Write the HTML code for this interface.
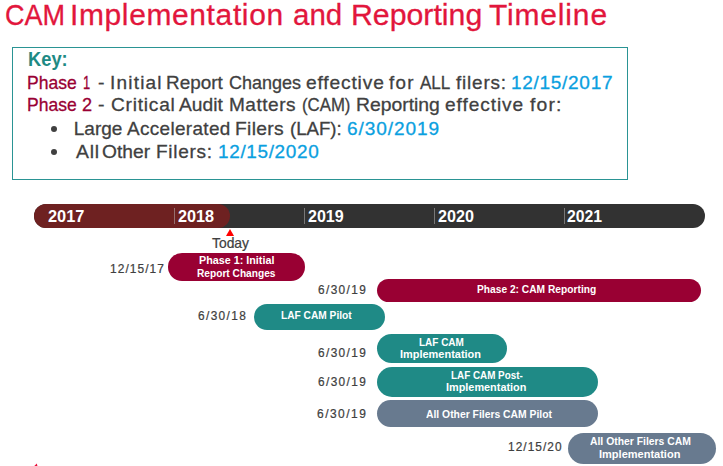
<!DOCTYPE html>
<html><head><meta charset="utf-8"><style>
html,body{margin:0;padding:0;background:#fff;width:723px;height:466px;overflow:hidden;position:relative}
body>div{position:absolute}
.t{white-space:nowrap;font-family:"Liberation Sans", sans-serif;transform-origin:0 0}
.s{-webkit-text-stroke:0.35px currentColor}
</style></head><body>
<div style="left:12px;top:47px;width:614px;height:131px;border:1px solid #2A9494;"></div>
<div style="left:51px;top:126px;width:6px;height:6px;border-radius:3px;background:#404040"></div>
<div style="left:51px;top:149px;width:6px;height:6px;border-radius:3px;background:#404040"></div>
<div style="left:34px;top:204px;width:671px;height:24px;background:#323232;border-radius:12px;"></div>
<div style="left:34px;top:204px;width:196px;height:24px;background:#6E2121;border-radius:12px;"></div>
<div style="left:174px;top:208px;width:1px;height:16px;background:rgba(190,190,190,0.5);border-radius:0px;"></div>
<div style="left:304px;top:208px;width:1px;height:16px;background:rgba(190,190,190,0.5);border-radius:0px;"></div>
<div style="left:434px;top:208px;width:1px;height:16px;background:rgba(190,190,190,0.5);border-radius:0px;"></div>
<div style="left:564px;top:208px;width:1px;height:16px;background:rgba(190,190,190,0.5);border-radius:0px;"></div>
<svg style="position:absolute;left:225px;top:228px" width="10" height="9"><polygon points="5,1 9,8 1,8" fill="#FF0000"/></svg>
<div style="left:168px;top:253px;width:137px;height:28px;background:#990033;border-radius:14px;"></div>
<div style="left:377px;top:279px;width:324px;height:23px;background:#990033;border-radius:11.5px;"></div>
<div style="left:254px;top:304px;width:131px;height:26px;background:#1F8A86;border-radius:13px;"></div>
<div style="left:377px;top:334px;width:130px;height:29px;background:#1F8A86;border-radius:14.5px;"></div>
<div style="left:377px;top:367px;width:221px;height:30px;background:#1F8A86;border-radius:15px;"></div>
<div style="left:377px;top:400px;width:221px;height:27px;background:#687A8F;border-radius:13.5px;"></div>
<div style="left:568px;top:433px;width:148px;height:31px;background:#687A8F;border-radius:15.5px;"></div>
<svg style="position:absolute;left:30px;top:460px" width="10" height="8"><polygon points="6.8,3.6 3.8,6.5 7.6,6.5" fill="#E8103A"/></svg>
<div class="t" style="left:4.5px;top:-0.1px;font-size:30px;line-height:30px;color:#E2163C;transform:scaleX(0.9016);-webkit-text-stroke:0.3px #E2163C;">CAM</div>
<div class="t" style="left:70.21px;top:-0.1px;font-size:30px;line-height:30px;color:#E2163C;transform:scaleX(0.9976);letter-spacing:0.654px;-webkit-text-stroke:0.3px #E2163C;">Implementation</div>
<div class="t" style="left:292.62px;top:-0.1px;font-size:30px;line-height:30px;color:#E2163C;transform:scaleX(0.983);-webkit-text-stroke:0.3px #E2163C;">and</div>
<div class="t" style="left:350.98px;top:-0.1px;font-size:30px;line-height:30px;color:#E2163C;transform:scaleX(1.0087);-webkit-text-stroke:0.3px #E2163C;">Reporting</div>
<div class="t" style="left:488.5px;top:-0.1px;font-size:30px;line-height:30px;color:#E2163C;transform:scaleX(0.9991);letter-spacing:0.843px;-webkit-text-stroke:0.3px #E2163C;">Timeline</div>
<div class="t" style="left:27.69px;top:48.7px;font-size:20px;line-height:20px;color:#1E8A84;font-weight:bold;transform:scaleX(0.9146);">Key:</div>
<div class="t" style="left:26.86px;top:72.8px;font-size:19px;line-height:19px;color:#990033;transform:scaleX(0.9216);-webkit-text-stroke:0.3px #990033;">Phase</div>
<div class="t" style="left:82.92px;top:72.8px;font-size:19px;line-height:19px;color:#990033;transform:scaleX(0.6778);-webkit-text-stroke:0.3px #990033;">1</div>
<div class="t" style="left:98.08px;top:72.8px;font-size:19px;line-height:19px;color:#404040;transform:scaleX(1.02);-webkit-text-stroke:0.3px #404040;">-</div>
<div class="t" style="left:110.0px;top:72.8px;font-size:19px;line-height:19px;color:#404040;transform:scaleX(1.0021);letter-spacing:1.183px;-webkit-text-stroke:0.3px #404040;">Initial</div>
<div class="t" style="left:165.71px;top:72.8px;font-size:19px;line-height:19px;color:#404040;transform:scaleX(0.9945);-webkit-text-stroke:0.3px #404040;">Report</div>
<div class="t" style="left:229.45px;top:72.8px;font-size:19px;line-height:19px;color:#404040;transform:scaleX(0.9459);-webkit-text-stroke:0.3px #404040;">Changes</div>
<div class="t" style="left:305.99px;top:72.8px;font-size:19px;line-height:19px;color:#404040;transform:scaleX(1.0093);letter-spacing:0.837px;-webkit-text-stroke:0.3px #404040;">effective</div>
<div class="t" style="left:389.3px;top:72.8px;font-size:19px;line-height:19px;color:#404040;transform:scaleX(0.988);letter-spacing:1.35px;-webkit-text-stroke:0.3px #404040;">for</div>
<div class="t" style="left:420.2px;top:72.8px;font-size:19px;line-height:19px;color:#404040;transform:scaleX(0.897);-webkit-text-stroke:0.3px #404040;">ALL</div>
<div class="t" style="left:456.1px;top:72.8px;font-size:19px;line-height:19px;color:#404040;transform:scaleX(0.9959);letter-spacing:0.8px;-webkit-text-stroke:0.3px #404040;">filers:</div>
<div class="t" style="left:511.0px;top:72.8px;font-size:19px;line-height:19px;color:#0AA0DF;transform:scaleX(1.002);letter-spacing:0.689px;-webkit-text-stroke:0.3px #0AA0DF;">12/15/2017</div>
<div class="t" style="left:26.86px;top:95.3px;font-size:19px;line-height:19px;color:#990033;transform:scaleX(0.9216);-webkit-text-stroke:0.3px #990033;">Phase</div>
<div class="t" style="left:81.64px;top:95.3px;font-size:19px;line-height:19px;color:#990033;transform:scaleX(0.9556);-webkit-text-stroke:0.3px #990033;">2</div>
<div class="t" style="left:98.38px;top:95.3px;font-size:19px;line-height:19px;color:#404040;transform:scaleX(1.02);-webkit-text-stroke:0.3px #404040;">-</div>
<div class="t" style="left:110.59px;top:95.3px;font-size:19px;line-height:19px;color:#404040;transform:scaleX(1.0066);letter-spacing:0.771px;-webkit-text-stroke:0.3px #404040;">Critical</div>
<div class="t" style="left:179.4px;top:95.3px;font-size:19px;line-height:19px;color:#404040;transform:scaleX(1.0116);-webkit-text-stroke:0.3px #404040;">Audit</div>
<div class="t" style="left:228.5px;top:95.3px;font-size:19px;line-height:19px;color:#404040;transform:scaleX(1.0016);letter-spacing:0.517px;-webkit-text-stroke:0.3px #404040;">Matters</div>
<div class="t" style="left:302.12px;top:95.3px;font-size:19px;line-height:19px;color:#404040;transform:scaleX(0.883);-webkit-text-stroke:0.3px #404040;">(CAM)</div>
<div class="t" style="left:356.06px;top:95.3px;font-size:19px;line-height:19px;color:#404040;transform:scaleX(1.0177);-webkit-text-stroke:0.3px #404040;">Reporting</div>
<div class="t" style="left:445.29px;top:95.3px;font-size:19px;line-height:19px;color:#404040;transform:scaleX(1.0053);letter-spacing:0.925px;-webkit-text-stroke:0.3px #404040;">effective</div>
<div class="t" style="left:529.6px;top:95.3px;font-size:19px;line-height:19px;color:#404040;transform:scaleX(1.0172);letter-spacing:1.167px;-webkit-text-stroke:0.3px #404040;">for:</div>
<div class="t" style="left:73.8px;top:118.5px;font-size:19px;line-height:19px;color:#404040;-webkit-text-stroke:0.3px #404040;">Large</div>
<div class="t" style="left:127.3px;top:118.5px;font-size:19px;line-height:19px;color:#404040;transform:scaleX(0.9951);letter-spacing:0.35px;-webkit-text-stroke:0.3px #404040;">Accelerated</div>
<div class="t" style="left:235.27px;top:118.5px;font-size:19px;line-height:19px;color:#404040;transform:scaleX(1.0133);letter-spacing:0.32px;-webkit-text-stroke:0.3px #404040;">Filers</div>
<div class="t" style="left:289.92px;top:118.5px;font-size:19px;line-height:19px;color:#404040;transform:scaleX(0.98);-webkit-text-stroke:0.3px #404040;">(LAF):</div>
<div class="t" style="left:346.8px;top:118.5px;font-size:19px;line-height:19px;color:#0AA0DF;transform:scaleX(1.0033);letter-spacing:0.913px;-webkit-text-stroke:0.3px #0AA0DF;">6/30/2019</div>
<div class="t" style="left:75.5px;top:141.5px;font-size:19px;line-height:19px;color:#404040;transform:scaleX(1.019);letter-spacing:0.7px;-webkit-text-stroke:0.3px #404040;">All</div>
<div class="t" style="left:102.19px;top:141.5px;font-size:19px;line-height:19px;color:#404040;transform:scaleX(1.0109);-webkit-text-stroke:0.3px #404040;">Other</div>
<div class="t" style="left:156.0px;top:141.5px;font-size:19px;line-height:19px;color:#404040;transform:scaleX(1.0019);letter-spacing:0.683px;-webkit-text-stroke:0.3px #404040;">Filers:</div>
<div class="t" style="left:217.6px;top:141.5px;font-size:19px;line-height:19px;color:#0AA0DF;transform:scaleX(0.998);letter-spacing:0.644px;-webkit-text-stroke:0.3px #0AA0DF;">12/15/2020</div>
<div class="t" style="left:47.78px;top:208.5px;font-size:16px;line-height:16px;color:#FFFFFF;font-weight:bold;transform:scaleX(1.0235);">2017</div>
<div class="t" style="left:177.69px;top:208.5px;font-size:16px;line-height:16px;color:#FFFFFF;font-weight:bold;transform:scaleX(1.0147);">2018</div>
<div class="t" style="left:307.7px;top:208.5px;font-size:16px;line-height:16px;color:#FFFFFF;font-weight:bold;transform:scaleX(1.0029);">2019</div>
<div class="t" style="left:437.59px;top:208.5px;font-size:16px;line-height:16px;color:#FFFFFF;font-weight:bold;transform:scaleX(1.0088);">2020</div>
<div class="t" style="left:567.41px;top:208.5px;font-size:16px;line-height:16px;color:#FFFFFF;font-weight:bold;transform:scaleX(0.9853);">2021</div>
<div class="t" style="left:211.5px;top:234.6px;font-size:15px;line-height:15px;color:#404040;transform:scaleX(0.925);-webkit-text-stroke:0.22px #404040;">Today</div>
<div class="t" style="left:198.72px;top:255.5px;font-size:10px;line-height:10px;color:#FFFFFF;font-weight:bold;transform:scaleX(1.0765);">Phase 1: Initial</div>
<div class="t" style="left:197.18px;top:268.5px;font-size:10px;line-height:10px;color:#FFFFFF;font-weight:bold;transform:scaleX(1.0158);">Report Changes</div>
<div class="t" style="left:476.78px;top:284.7px;font-size:10px;line-height:10px;color:#FFFFFF;font-weight:bold;transform:scaleX(1.0217);">Phase 2: CAM Reporting</div>
<div class="t" style="left:281.48px;top:310.7px;font-size:10px;line-height:10px;color:#FFFFFF;font-weight:bold;transform:scaleX(1.0176);">LAF CAM Pilot</div>
<div class="t" style="left:418.8px;top:338.2px;font-size:10px;line-height:10px;color:#FFFFFF;font-weight:bold;transform:scaleX(0.9977);">LAF CAM</div>
<div class="t" style="left:400.4px;top:350.4px;font-size:10px;line-height:10px;color:#FFFFFF;font-weight:bold;transform:scaleX(1.0958);">Implementation</div>
<div class="t" style="left:450.81px;top:371.2px;font-size:10px;line-height:10px;color:#FFFFFF;font-weight:bold;transform:scaleX(0.9861);">LAF CAM Post-</div>
<div class="t" style="left:446.41px;top:383.4px;font-size:10px;line-height:10px;color:#FFFFFF;font-weight:bold;transform:scaleX(1.0875);">Implementation</div>
<div class="t" style="left:425.7px;top:410.3px;font-size:10px;line-height:10px;color:#FFFFFF;font-weight:bold;transform:scaleX(1.0355);">All Other Filers CAM Pilot</div>
<div class="t" style="left:590.0px;top:436.8px;font-size:10px;line-height:10px;color:#FFFFFF;font-weight:bold;transform:scaleX(1.0371);">All Other Filers CAM</div>
<div class="t" style="left:599.1px;top:449.7px;font-size:10px;line-height:10px;color:#FFFFFF;font-weight:bold;transform:scaleX(1.1014);">Implementation</div>
<div class="t" style="left:110.01px;top:262.7px;font-size:12px;line-height:12px;color:#404040;transform:scaleX(0.9925);letter-spacing:1.086px;-webkit-text-stroke:0.22px #404040;">12/15/17</div>
<div class="t" style="left:317.61px;top:283.7px;font-size:12px;line-height:12px;color:#404040;transform:scaleX(0.9872);letter-spacing:1.4px;-webkit-text-stroke:0.22px #404040;">6/30/19</div>
<div class="t" style="left:197.61px;top:310.4px;font-size:12px;line-height:12px;color:#404040;transform:scaleX(0.9872);letter-spacing:1.4px;-webkit-text-stroke:0.22px #404040;">6/30/18</div>
<div class="t" style="left:317.81px;top:346.6px;font-size:12px;line-height:12px;color:#404040;transform:scaleX(0.9872);letter-spacing:1.4px;-webkit-text-stroke:0.22px #404040;">6/30/19</div>
<div class="t" style="left:317.81px;top:375.5px;font-size:12px;line-height:12px;color:#404040;transform:scaleX(0.9872);letter-spacing:1.4px;-webkit-text-stroke:0.22px #404040;">6/30/19</div>
<div class="t" style="left:317.4px;top:407.8px;font-size:12px;line-height:12px;color:#404040;transform:scaleX(0.9979);letter-spacing:1.483px;-webkit-text-stroke:0.22px #404040;">6/30/19</div>
<div class="t" style="left:507.61px;top:441.0px;font-size:12px;line-height:12px;color:#404040;transform:scaleX(0.9887);letter-spacing:1.057px;-webkit-text-stroke:0.22px #404040;">12/15/20</div>
</body></html>
